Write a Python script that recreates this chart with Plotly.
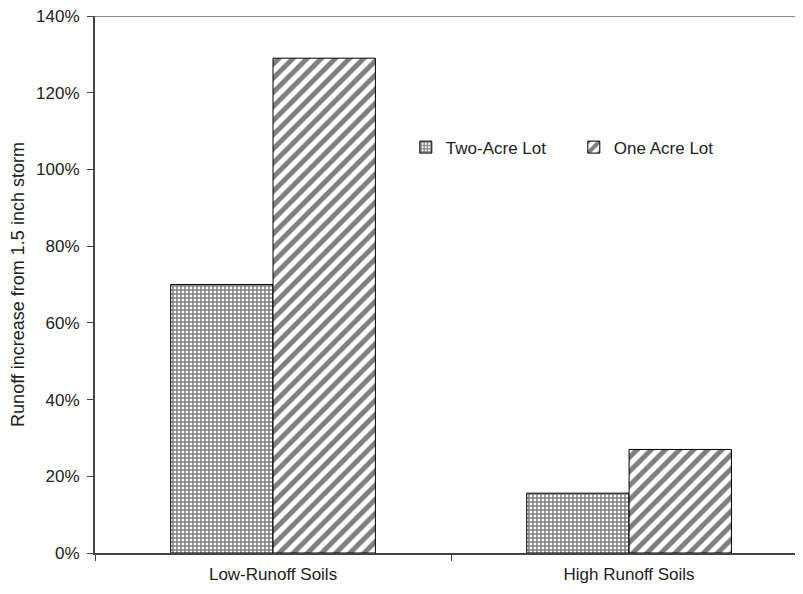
import plotly.graph_objects as go

categories = ["Low-Runoff Soils", "High Runoff Soils"]
two_acre = [0.70, 0.156]
one_acre = [1.29, 0.27]
series_names = ["Two-Acre Lot", "One Acre Lot"]
y_ticks = [0, 0.2, 0.4, 0.6, 0.8, 1.0, 1.2, 1.4]
y_tick_labels = ["0%", "20%", "40%", "60%", "80%", "100%", "120%", "140%"]

font = "Liberation Sans, Arial, sans-serif"
FS = 17

fig = go.Figure()
fig.add_trace(go.Bar(
    x=categories, y=two_acre, name=series_names[0],
    marker=dict(color="white", line=dict(color="black", width=1),
                pattern=dict(shape="+", size=4, solidity=0.62, fgcolor="black", bgcolor="white")),
))
fig.add_trace(go.Bar(
    x=categories, y=one_acre, name=series_names[1],
    marker=dict(color="white", line=dict(color="black", width=1),
                pattern=dict(shape="/", size=10, solidity=0.5, fgcolor="black", bgcolor="white")),
))

fig.add_shape(type="line", xref="paper", yref="y", x0=0, x1=1, y0=1.4, y1=1.4,
              line=dict(color="#8a8a8a", width=2))

fig.update_layout(
    width=787, height=578,
    margin=dict(l=87, r=0, t=8, b=33, autoexpand=False),
    paper_bgcolor="white", plot_bgcolor="white",
    barmode="group", bargap=0.425, bargroupgap=0,
    font=dict(family=font, size=FS, color="#222"),
    showlegend=True,
    legend=dict(orientation="h", x=0.444, y=0.755, xanchor="left", yanchor="middle",
                font=dict(size=FS, family=font), entrywidth=123, entrywidthmode="pixels",
                bgcolor="rgba(0,0,0,0)"),
    xaxis=dict(range=[-0.5, 1.466], showline=True, linecolor="#444", linewidth=2,
               ticks="outside", tickson="boundaries", ticklen=6, tickcolor="#444",
               showgrid=False, automargin=False, ticklabelstandoff=5,
               tickfont=dict(size=FS, family=font)),
    yaxis=dict(range=[0, 1.4], tickvals=y_ticks, ticktext=y_tick_labels,
               showline=True, linecolor="#444", linewidth=2, ticks="outside",
               ticklen=6, tickcolor="#444", showgrid=False, zeroline=False,
               automargin=False, ticklabelstandoff=4, ticklabeloverflow="allow",
               title=dict(text="Runoff increase from 1.5 inch storm",
                          font=dict(size=18, family=font), standoff=7),
               tickfont=dict(size=FS, family=font)),
)

fig.write_html("out.html")
